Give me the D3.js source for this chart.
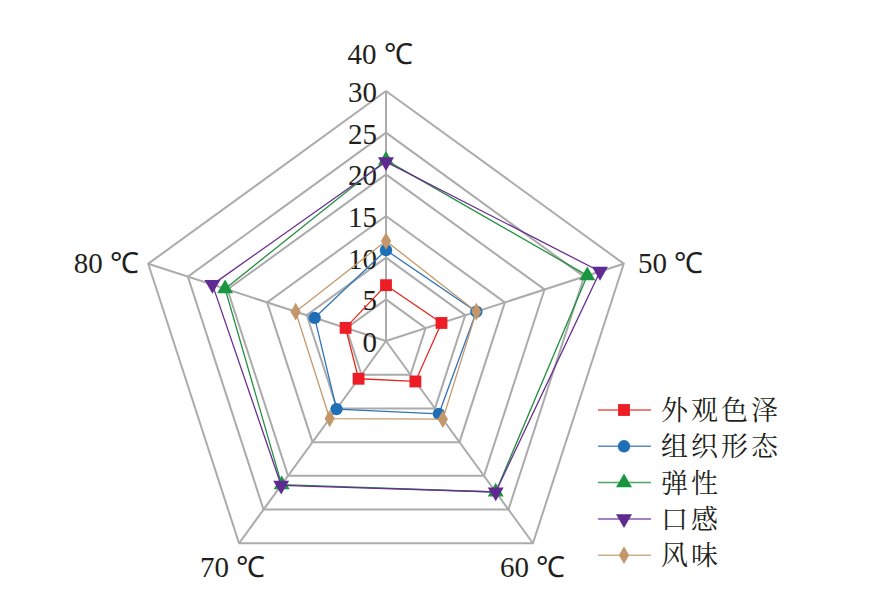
<!DOCTYPE html>
<html><head><meta charset="utf-8">
<script src="https://cdn.jsdelivr.net/npm/d3@7"></script>
<style>body{margin:0;background:#fff}svg{display:block}</style>
</head><body>
<script>
const axesLabels = ["40 ℃","50 ℃","60 ℃","70 ℃","80 ℃"];
const seriesNames = ["外观色泽","组织形态","弹性","口感","风味"];
const red    = [6.7, 7.0, 6.0, 5.6, 5.1];
const blue   = [10.9, 11.4, 10.8, 10.1, 9.0];
const green  = [21.7, 25.4, 22.4, 21.3, 20.3];
const purple = [21.5, 27.0, 22.4, 21.4, 21.9];
const brown  = [12.0, 11.4, 11.6, 11.5, 11.4];
const tickValues = [0,5,10,15,20,25,30];
const colors = ["#e8281e","#2f73b8","#23913f","#6a2e92","#c49a6c"];
const markerColors = ["#ee1c25","#1f6fb7","#1a9641","#5f2a91","#c4976a"];
const shapes = [d3.symbolSquare, d3.symbolCircle, d3.symbolTriangle, d3.symbolTriangle, d3.symbolDiamond];
const rotations = [0,0,0,180,0];
const sizes = [140,120,110,110,90];
const data = [red, blue, green, purple, brown];

const W=880,H=604, cx=386, cy=341;
const svg = d3.select("body").append("svg").attr("width",W).attr("height",H);
const r = d3.scaleLinear().domain([0,30]).range([0,250]);
const ang = d3.scaleLinear().domain([0,5]).range([0,2*Math.PI]);
const pt = (i,v)=>[cx + r(v)*Math.sin(ang(i)), cy - r(v)*Math.cos(ang(i))];

const g = svg.append("g");
tickValues.slice(1).forEach(t=>{
  g.append("path").attr("d", d3.line()(d3.range(6).map(i=>pt(i%5,t))))
   .attr("fill","none").attr("stroke","#ababab").attr("stroke-width",2);
});
d3.range(5).forEach(i=>{
  const p=pt(i,30);
  g.append("line").attr("x1",cx).attr("y1",cy).attr("x2",p[0]).attr("y2",p[1])
   .attr("stroke","#ababab").attr("stroke-width",2);
});
tickValues.forEach(t=>{
  g.append("text").attr("x",cx-9).attr("y",cy - r(t)+11)
   .attr("text-anchor","end").attr("font-family","Liberation Serif, serif").attr("font-size",29)
   .attr("fill","#231f20").text(t);
});
const lp = [[380,64,"middle"],[638,273,"start"],[500,577,"start"],[200,577,"start"],[139,273,"end"]];
axesLabels.forEach((l,i)=>{
  g.append("text").attr("x",lp[i][0]).attr("y",lp[i][1]).attr("text-anchor",lp[i][2])
   .attr("font-family","Liberation Serif, serif").attr("font-size",29).attr("fill","#231f20").text(l);
});
data.forEach((vals,s)=>{
  const pts = vals.map((v,i)=>pt(i,v));
  g.append("path").attr("d", d3.line()(pts.concat([pts[0]])))
   .attr("fill","none").attr("stroke",colors[s]).attr("stroke-width",1.3);
  pts.forEach(p=>{
    g.append("path").attr("d", d3.symbol().type(shapes[s]).size(sizes[s])())
     .attr("transform",`translate(${p[0]},${p[1]}) rotate(${rotations[s]})`)
     .attr("fill",markerColors[s]);
  });
});
const ly0=410, ldy=36.3;
seriesNames.forEach((n,s)=>{
  const y=ly0+s*ldy;
  g.append("line").attr("x1",598).attr("x2",651).attr("y1",y).attr("y2",y)
   .attr("stroke",colors[s]).attr("stroke-width",1.5).attr("opacity",0.8);
  g.append("path").attr("d", d3.symbol().type(shapes[s]).size(sizes[s])())
   .attr("transform",`translate(624,${y}) rotate(${rotations[s]})`).attr("fill",markerColors[s]);
  g.append("text").attr("x",661).attr("y",y+10).attr("font-family","Noto Serif CJK SC, Noto Sans CJK SC, sans-serif")
   .attr("font-size",27).attr("letter-spacing",3).attr("fill","#231f20").text(n);
});
</script>
</body></html>
